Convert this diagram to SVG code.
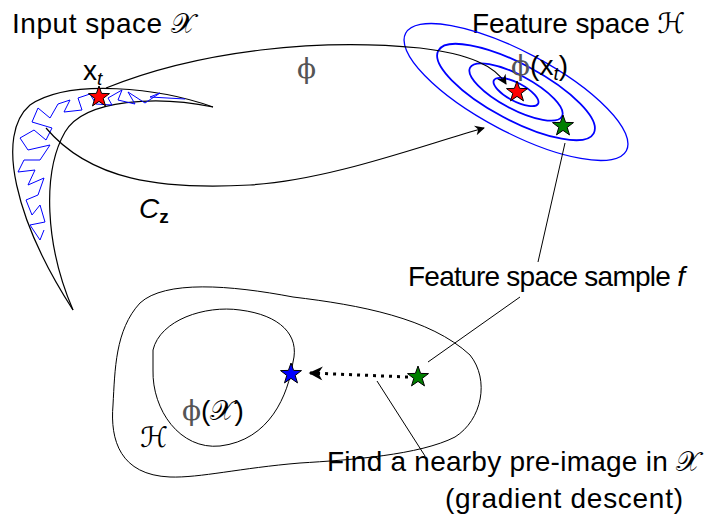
<svg xmlns="http://www.w3.org/2000/svg" width="713" height="523" viewBox="0 0 713 523">
<style>
  text { font-family: "Liberation Sans", "DejaVu Sans", sans-serif; font-size: 28px; fill: #000; }
  .m { font-family: "DejaVu Serif", "DejaVu Sans", serif; }
  .phi { fill: #555; }
  .sub { font-size: 19px; }
  .line { fill: none; stroke: #000; stroke-width: 1.2; }
  .thin { fill: none; stroke: #000; stroke-width: 1; }
  .ell { fill: none; stroke: #0000ff; }
  .star { stroke: #000; stroke-width: 1; }
</style>
<defs>
  <marker id="ah" viewBox="0 0 10 10" refX="9" refY="5" markerWidth="10" markerHeight="10" markerUnits="userSpaceOnUse" orient="auto">
    <path d="M0,0 L10,5 L0,10 L3,5 Z" fill="#000"/>
  </marker>
  <marker id="ah2" viewBox="0 0 10 10" refX="9" refY="5" markerWidth="16" markerHeight="14" markerUnits="userSpaceOnUse" orient="auto">
    <path d="M0,0 L10,5 L0,10 L3,5 Z" fill="#000"/>
  </marker>
  <path id="star" d="M0,-11 L2.6,-3.6 L10.5,-3.4 L4.2,1.4 L6.5,8.9 L0,4.4 L-6.5,8.9 L-4.2,1.4 L-10.5,-3.4 L-2.6,-3.6 Z"/>
</defs>

<g id="input-space">
  <text x="12" y="33" textLength="183" lengthAdjust="spacing">Input space <tspan class="m">𝒳</tspan></text>
  <path class="line" d="M213,107 C160,88 70,78 30,105 C-5,135 15,220 73,310"/>
  <path class="line" d="M213,107 C160,96 85,98 65,132 C42,172 45,245 73,310"/>
  <polyline fill="none" stroke="#0000ff" stroke-width="1" points="185,99 150,97 160,93 145,103 128,92 135,104 118,100 122,90 108,98 112,105 96,104 90,94 78,98 82,110 64,112 70,100 58,104 50,118 38,108 32,122 52,128 46,140 34,130 20,138 28,150 50,145 40,160 24,160 18,172 35,170 28,185 44,178 38,195 26,200 32,215 40,205 45,222 30,225 40,240 44,230"/>
  <use href="#star" x="99" y="97" fill="#ff0000" class="star"/>
  <text x="83" y="80">x<tspan class="sub" dy="5" font-style="italic">t</tspan></text>
</g>

<g id="feature-space">
  <text x="472" y="33" textLength="213" lengthAdjust="spacing">Feature space <tspan class="m">ℋ</tspan></text>
  <g transform="translate(516,92) rotate(28)">
    <ellipse class="ell" rx="125" ry="40" stroke-width="1.3"/>
    <ellipse class="ell" rx="88" ry="28" stroke-width="1.8"/>
    <ellipse class="ell" rx="52" ry="17" stroke-width="1.8"/>
    <ellipse class="ell" rx="25" ry="9" stroke-width="1.8"/>
  </g>
  <use href="#star" x="517" y="92" fill="#ff0000" class="star"/>
  <use href="#star" x="563" y="126" fill="#008000" class="star"/>
  <text x="511" y="75"><tspan class="m phi">ϕ</tspan>(x<tspan class="sub" dy="5" font-style="italic">t</tspan><tspan dy="-5">)</tspan></text>
</g>

<g id="h-region">
  <path class="thin" d="M140,303 C165,280 230,285 293,297 C360,305 430,318 470,355 C490,380 482,420 455,437 C420,455 350,460 300,463 C240,468 200,478 170,477 C120,475 110,440 113,405 C115,370 115,330 140,303 Z"/>
  <path class="thin" d="M153,350 C160,320 205,305 240,310 C280,315 300,335 293,362 C288,395 270,440 220,446 C180,450 152,410 153,370 Z"/>
  <text x="182" y="420"><tspan class="m phi">ϕ</tspan>(<tspan class="m">𝒳</tspan>)</text>
  <text x="140" y="447" class="m">ℋ</text>
  <use href="#star" x="291" y="374" fill="#0000ff" class="star"/>
  <use href="#star" x="418" y="377" fill="#008000" class="star"/>
</g>

<g id="labels">
  <text x="297" y="78" class="m phi">ϕ</text>
  <text x="139" y="218" font-style="italic">C<tspan class="sub" dy="5" font-style="normal" font-weight="bold">z</tspan></text>
  <text x="408" y="286" textLength="277" lengthAdjust="spacing">Feature space sample <tspan font-style="italic">f</tspan></text>
  <text x="327" y="471" textLength="373" lengthAdjust="spacing">Find a nearby pre-image in <tspan class="m">𝒳</tspan></text>
  <text x="445" y="508" textLength="238" lengthAdjust="spacing">(gradient descent)</text>
</g>

<g id="connectors">
  <path class="line" d="M106,88 C200,50 320,38 420,48 C470,54 495,66 506,84" marker-end="url(#ah)"/>
  <path class="line" d="M46,128 C90,180 160,190 250,185 C330,180 420,146 484,128" marker-end="url(#ah)"/>
  <line class="thin" x1="565" y1="143" x2="538" y2="262"/>
  <line class="thin" x1="428" y1="362" x2="520" y2="297"/>
  <line class="thin" x1="377" y1="381" x2="425" y2="456"/>
  <line x1="408" y1="377" x2="310" y2="373" stroke="#000" stroke-width="3" stroke-dasharray="3,5" marker-end="url(#ah2)"/>
</g>
</svg>
